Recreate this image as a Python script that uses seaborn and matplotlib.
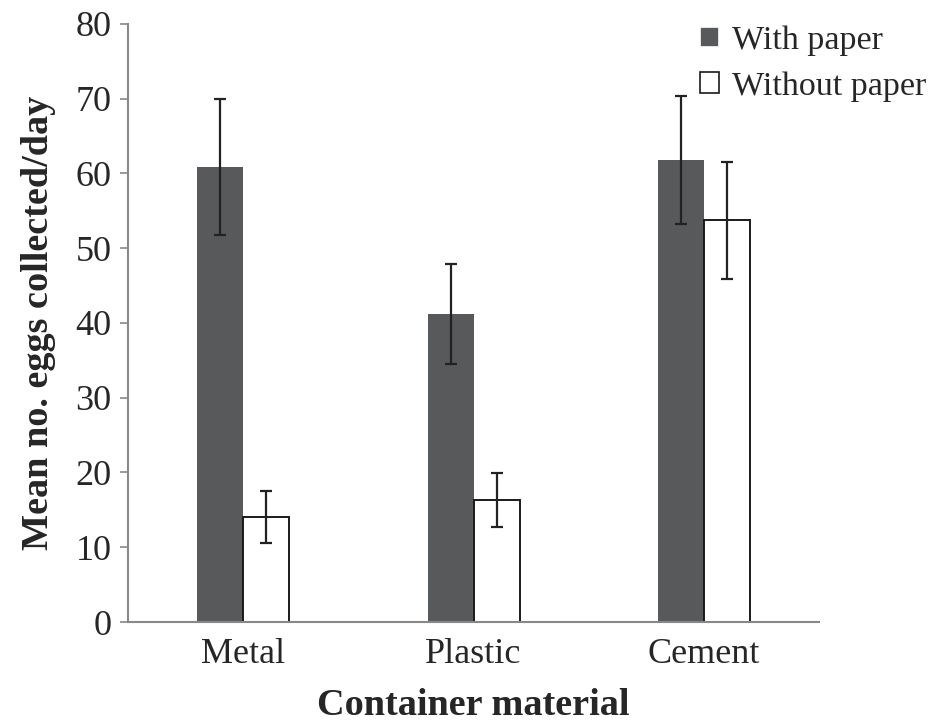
import pandas as pd
import matplotlib.pyplot as plt
import seaborn as sns

# Data
materials = ["Metal", "Plastic", "Cement"]
with_paper = [60.8, 41.2, 61.8]
with_paper_err = [9.1, 6.7, 8.6]
without_paper = [14.0, 16.3, 53.7]
without_paper_err = [3.5, 3.6, 7.8]
groups = ["With paper", "Without paper"]

df = pd.DataFrame({
    "material": materials * 2,
    "group": [groups[0]] * 3 + [groups[1]] * 3,
    "mean": with_paper + without_paper,
    "err": with_paper_err + without_paper_err,
})

sns.set_style("white")
plt.rcParams['font.family'] = ['Liberation Serif', 'DejaVu Serif']

fig = plt.figure(figsize=(9.35, 7.22), dpi=100)
ax = fig.add_axes([0.137, 0.1385, 0.739, 0.8285])

sns.barplot(data=df, x="material", y="mean", hue="group", order=materials,
            hue_order=groups, palette=["#58595b", "white"], width=0.4,
            errorbar=None, ax=ax, saturation=1)

# style bars and add error bars
bar_containers = list(ax.containers)
for i, container in enumerate(bar_containers):
    sub = df[df["group"] == groups[i]]
    xs = []
    for bar in container:
        if i == 0:
            bar.set_edgecolor("none")
        else:
            bar.set_edgecolor("#1a1a1a")
            bar.set_linewidth(1.4)
        xs.append(bar.get_x() + bar.get_width() / 2)
    ax.errorbar(xs, sub["mean"], yerr=sub["err"], fmt="none", ecolor="#222222",
                elinewidth=1.6, capsize=4.5, capthick=1.6, zorder=5)

ax.set_ylim(0, 80)
ax.set_xlim(-0.5, 2.5)
ax.set_yticks(range(0, 81, 10))
ax.set_xlabel("Container material", fontsize=27.5, fontweight="bold", labelpad=12)
ax.set_ylabel("Mean no. eggs collected/day", fontsize=27.5, fontweight="bold", labelpad=14)
ax.tick_params(axis="y", labelsize=26, left=True, length=6, width=1.2, color="#888888", pad=6)
ax.tick_params(axis="x", labelsize=26, bottom=False, pad=8)

sns.despine(ax=ax)
for s in ["left", "bottom"]:
    ax.spines[s].set_color("#888888")
    ax.spines[s].set_linewidth(1.5)

leg = ax.legend(loc="upper right", bbox_to_anchor=(1.175, 1.02), frameon=False,
                fontsize=24.5, handlelength=0.55, handleheight=0.55, handletextpad=0.4,
                labelspacing=0.45, borderaxespad=0)
for h in leg.legend_handles:
    h.set_linewidth(1.2)
leg.legend_handles[1].set_edgecolor("#1a1a1a")

plt.savefig("out.png", dpi=100)
